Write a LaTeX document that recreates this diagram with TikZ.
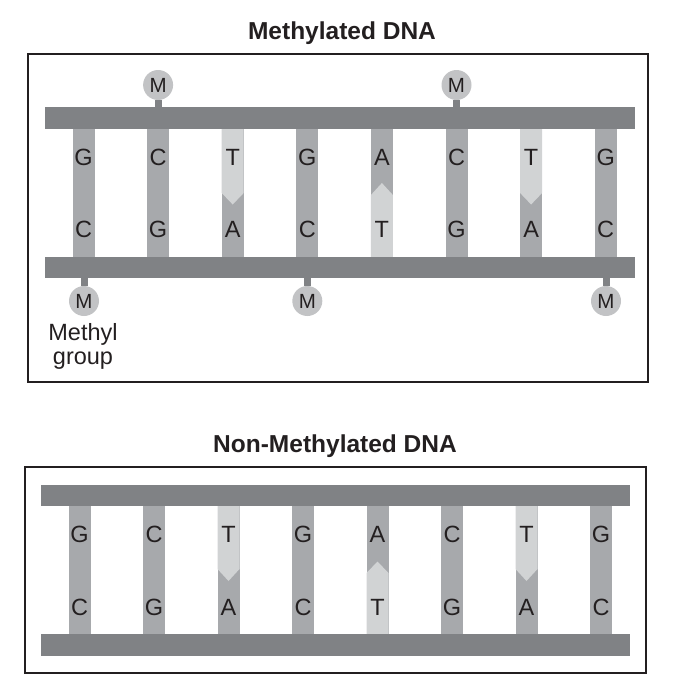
\documentclass[tikz,border=0pt]{standalone}
\usepackage{fontspec}
\setmainfont{Liberation Sans}
\definecolor{bb}{HTML}{808285}
\definecolor{rungc}{HTML}{A7A9AC}
\definecolor{lite}{HTML}{D1D3D4}
\definecolor{mcirc}{HTML}{C2C3C5}
\definecolor{ink}{HTML}{231F20}
\begin{document}
\begin{tikzpicture}[x=1pt,y=-1pt,
  base/.style={font=\fontsize{23.5}{23.5}\selectfont, text=ink, inner sep=0pt, text height=16.8pt, text depth=0pt},
  ttl/.style={font=\bfseries\fontsize{24.5}{24.5}\selectfont, text=ink, inner sep=0pt, anchor=base},
  frame/.style={draw=ink, line width=1.8pt},
  strand/.style={fill=bb},
  rungbar/.style={fill=rungc},
  tpart/.style={fill=lite},
  mgroup/.style={circle, fill=mcirc, minimum size=30pt, inner sep=0pt, text=ink, font=\fontsize{20.5}{20.5}\selectfont},
  mstem/.style={draw=bb, line width=7pt},
  lbl/.style={font=\fontsize{23.5}{23.5}\selectfont, text=ink, inner sep=0pt, anchor=base}]
\useasboundingbox (0,0) rectangle (674,694);

% ---------- Methylated DNA ----------
\node[ttl] (t1) at (342,39.8) {Methylated DNA};
\draw[frame] (28,54) rectangle (648,382);
\foreach \i in {0,...,7}{
  \pgfmathsetmacro\cx{83.5+74.6*\i}
  \fill[rungbar] (\cx-11,125) rectangle (\cx+11,260);
}
% T parts (light)
\foreach \i in {2,6}{
  \pgfmathsetmacro\cx{83.5+74.6*\i}
  \fill[tpart] (\cx-11,125) -- (\cx+11,125) -- (\cx+11,193) -- (\cx,204.5) -- (\cx-11,193) -- cycle;
}
\foreach \i in {4}{
  \pgfmathsetmacro\cx{83.5+74.6*\i}
  \fill[tpart] (\cx-11,260) -- (\cx+11,260) -- (\cx+11,195) -- (\cx,183) -- (\cx-11,195) -- cycle;
}
\fill[strand] (45,107) rectangle (635,129);
\fill[strand] (45,257) rectangle (635,278);
\foreach \i/\t/\b in {0/G/C,1/C/G,2/T/A,3/G/C,4/A/T,5/C/G,6/T/A,7/G/C}{
  \pgfmathsetmacro\cx{83.5+74.6*\i}
  \node[base] (ut\i) at (\cx,157) {\t};
  \node[base] (ub\i) at (\cx,229) {\b};
}
% methyl groups
\node[mgroup] (m1) at (158.1,85) {M};
\node[mgroup] (m2) at (456.5,85) {M};
\coordinate (s1) at (158.1,108);
\coordinate (s2) at (456.5,108);
\draw[mstem] (m1.south) -- (s1);
\draw[mstem] (m2.south) -- (s2);
\node[mgroup] (m3) at (84,301) {M};
\node[mgroup] (m4) at (307.3,301) {M};
\node[mgroup] (m5) at (606,301) {M};
\coordinate (s3) at (84,277);
\coordinate (s4) at (307.3,277);
\coordinate (s5) at (606,277);
\draw[mstem] (m3.north) -- (s3);
\draw[mstem] (m4.north) -- (s4);
\draw[mstem] (m5.north) -- (s5);
\node[lbl] (ml1) at (83,340.5) {Methyl};
\node[lbl] (ml2) at (83,364) {group};

% ---------- Non-Methylated DNA ----------
\node[ttl] (t2) at (335,452) {Non-Methylated DNA};
\draw[frame] (25,467) rectangle (646,673);
\foreach \i in {0,...,7}{
  \pgfmathsetmacro\cx{79.5+74.5*\i}
  \fill[rungbar] (\cx-11,503) rectangle (\cx+11,637);
}
\foreach \i in {2,6}{
  \pgfmathsetmacro\cx{79.5+74.5*\i}
  \fill[tpart] (\cx-11,503) -- (\cx+11,503) -- (\cx+11,569) -- (\cx,581) -- (\cx-11,569) -- cycle;
}
\foreach \i in {4}{
  \pgfmathsetmacro\cx{79.5+74.5*\i}
  \fill[tpart] (\cx-11,637) -- (\cx+11,637) -- (\cx+11,573) -- (\cx,561.5) -- (\cx-11,573) -- cycle;
}
\fill[strand] (41,485) rectangle (630,506);
\fill[strand] (41,634) rectangle (630,656);
\foreach \i/\t/\b in {0/G/C,1/C/G,2/T/A,3/G/C,4/A/T,5/C/G,6/T/A,7/G/C}{
  \pgfmathsetmacro\cx{79.5+74.5*\i}
  \node[base] (lt\i) at (\cx,534.5) {\t};
  \node[base] (lb\i) at (\cx,607.5) {\b};
}
\end{tikzpicture}
\end{document}
